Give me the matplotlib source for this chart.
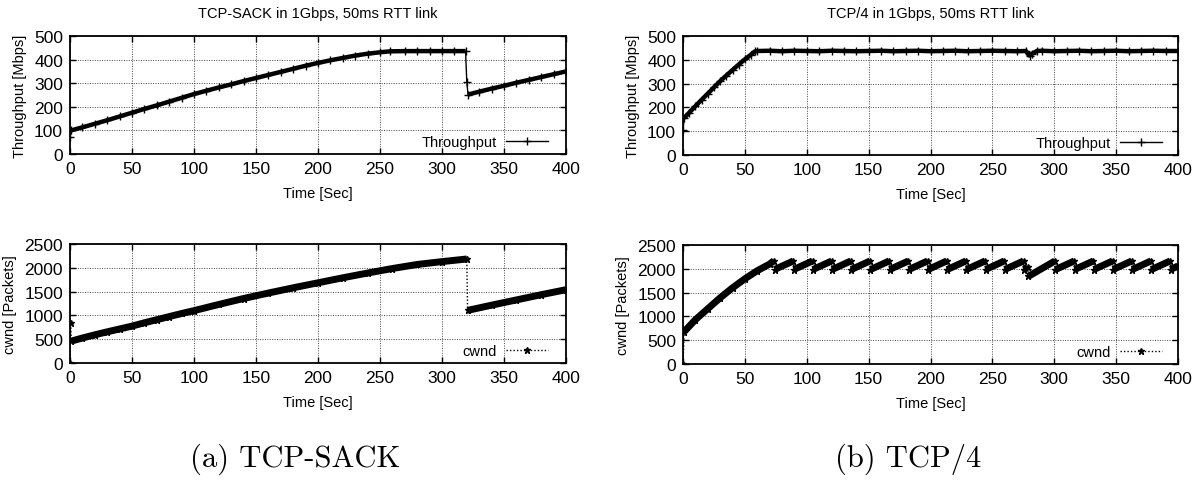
import numpy as np
import matplotlib
matplotlib.use("Agg")
import matplotlib.pyplot as plt

plt.rcParams['font.family'] = ['Liberation Sans', 'DejaVu Sans']

# TCP-SACK throughput [Mbps] vs time [s]
sack_thr_t = [0, 1, 10, 20, 30, 40, 50, 60, 70, 80, 90, 100, 110, 120, 130, 140,
              150, 160, 170, 180, 190, 200, 210, 220, 230, 240, 250, 258, 270,
              280, 290, 300, 310, 319, 320, 321, 330, 340, 350, 360, 370, 380,
              390, 400]
sack_thr_v = [72, 100, 113, 128, 143, 159, 175, 191, 206, 222, 238, 254, 268,
              282, 295, 309, 322, 335, 348, 361, 374, 386, 397, 407, 417, 425,
              431, 435, 436, 436, 436, 436, 436, 436, 305, 252, 264, 277, 289,
              302, 314, 326, 338, 350]

# TCP-SACK congestion window [packets]
sack_cwnd_t = [0, 0.5, 1, 10, 20, 30, 40, 50, 60, 70, 80, 90, 100, 120, 140,
               160, 180, 200, 220, 240, 260, 280, 300, 320, 320.6, 340, 360,
               380, 400]
sack_cwnd_v = [10, 850, 460, 525, 592, 655, 715, 775, 845, 910, 975, 1040,
               1100, 1230, 1355, 1470, 1580, 1685, 1790, 1890, 1985, 2070,
               2130, 2185, 1105, 1215, 1325, 1435, 1540]

# TCP/4 throughput [Mbps]
tcp4_thr_t = [0, 1, 5, 10, 15, 20, 25, 30, 35, 40, 45, 50, 55, 58, 60, 70, 80,
              90, 100, 110, 120, 130, 140, 150, 160, 170, 180, 190, 200, 210,
              220, 230, 240, 250, 260, 270, 277, 280, 282, 286, 290, 300, 310,
              320, 330, 340, 350, 360, 370, 380, 390, 400]
tcp4_thr_v = [106, 155, 178, 205, 232, 258, 284, 310, 334, 357, 380, 402, 422,
              435, 437, 438, 436, 438, 437, 436, 438, 437, 436, 437, 438, 436,
              437, 438, 436, 437, 438, 436, 437, 438, 437, 436, 437, 418, 425,
              437, 438, 436, 437, 438, 436, 437, 438, 436, 437, 438, 437, 437]

# TCP/4 congestion window [packets], sawtooth once it reaches ~2170
tcp4_cwnd_t = [0, 1, 10, 20, 30, 40, 50, 60, 70, 73.5,
               74, 89.2, 89.5, 104.7, 105, 120.2, 120.5, 135.7, 136, 151.2,
               151.5, 166.7, 167, 182.2, 182.5, 197.7, 198, 213.2, 213.5,
               228.7, 229, 244.2, 244.5, 259.7, 260, 275.2, 275.5, 278.6,
               279, 300.6, 301, 316.2, 316.5, 331.7, 332, 347.2, 347.5, 362.7,
               363, 378.2, 378.5, 393.7, 394, 400]
tcp4_cwnd_v = [0, 680, 930, 1160, 1390, 1600, 1790, 1960, 2100, 2170,
               1985, 2165, 1985, 2165, 1985, 2165, 1985, 2165, 1985, 2165,
               1985, 2165, 1985, 2165, 1985, 2165, 1985, 2165, 1985,
               2165, 1985, 2165, 1985, 2165, 1985, 2165, 1985, 2040,
               1840, 2165, 1985, 2165, 1985, 2165, 1985, 2165, 1985, 2165,
               1985, 2165, 1985, 2165, 1985, 2060]

time_ticks = list(range(0, 401, 50))
thr_ticks = list(range(0, 501, 100))
cwnd_ticks = list(range(0, 2501, 500))


def runs(t, v, jump):
    # split a series at sudden jumps, so only the thin connecting line spans them
    t = np.asarray(t, float)
    v = np.asarray(v, float)
    cut = np.where((np.abs(np.diff(v)) > jump) & (np.diff(t) <= 1.0))[0] + 1
    return [(a, b) for a, b in zip(np.split(t, cut), np.split(v, cut)) if len(a) > 1]


def style(ax, ylabel, yticks):
    ax.set_xlim(0, 400)
    ax.set_ylim(yticks[0], yticks[-1])
    ax.set_xticks(time_ticks)
    ax.set_yticks(yticks)
    ax.tick_params(direction='in', top=True, right=True, length=4, width=1,
                   labelsize=12.5, pad=5)
    ax.grid(True, color='#444444', linestyle=(0, (1, 1.5)), linewidth=0.7)
    for s in ax.spines.values():
        s.set_linewidth(1.3)
    ax.set_xlabel('Time [Sec]', fontsize=10.5, labelpad=7)
    ax.set_ylabel(ylabel, fontsize=10.5, labelpad=5)


def draw_thr(ax, t, v):
    for a, b in runs(t, v, 25):
        ax.plot(a, b, color='black', lw=3.2, solid_capstyle='butt')
    ax.plot(t, v, color='black', lw=1, marker='+', ms=6, mew=1,
            label='Throughput')


def draw_cwnd(ax, t, v):
    for a, b in runs(t, v, 100):
        ax.plot(a, b, color='black', lw=5, solid_capstyle='butt')
    ax.plot(t, v, color='black', lw=1, ls=(0, (1, 1.5)), marker='*', ms=5,
            label='cwnd')


def legend(ax, x):
    ax.legend(loc='lower right', bbox_to_anchor=(x, 0.04), frameon=False,
              markerfirst=False, fontsize=10.5, handlelength=2.9, numpoints=1,
              borderaxespad=0, borderpad=0, handletextpad=0.6)


fig = plt.figure(figsize=(12.04, 4.85), dpi=100)
W, H = 1204, 485

def add_axes(x0, x1, ytop, ybot):
    return fig.add_axes([x0 / W, 1 - ybot / H, (x1 - x0) / W, (ybot - ytop) / H])

ax1 = add_axes(70, 566, 37, 155)
ax2 = add_axes(70, 566, 245, 364)
ax3 = add_axes(683, 1178, 37, 156)
ax4 = add_axes(683, 1178, 246, 365)

draw_thr(ax1, sack_thr_t, sack_thr_v)
style(ax1, 'Throughput [Mbps]', thr_ticks)
ax1.set_title('TCP-SACK in 1Gbps, 50ms RTT link', fontsize=10.5, pad=14)
legend(ax1, 0.964)

draw_cwnd(ax2, sack_cwnd_t, sack_cwnd_v)
style(ax2, 'cwnd [Packets]', cwnd_ticks)
legend(ax2, 0.964)

draw_thr(ax3, tcp4_thr_t, tcp4_thr_v)
style(ax3, 'Throughput [Mbps]', thr_ticks)
ax3.set_title('TCP/4 in 1Gbps, 50ms RTT link', fontsize=10.5, pad=14)
legend(ax3, 0.968)

draw_cwnd(ax4, tcp4_cwnd_t, tcp4_cwnd_v)
style(ax4, 'cwnd [Packets]', cwnd_ticks)
legend(ax4, 0.968)

fig.text(295 / W, 1 - 459 / H, '(a) TCP-SACK', family='cmr10', fontsize=22,
         ha='center', va='center')
fig.text(908 / W, 1 - 459 / H, '(b) TCP/4', family='cmr10', fontsize=22,
         ha='center', va='center')

fig.savefig('out.png', dpi=100)
